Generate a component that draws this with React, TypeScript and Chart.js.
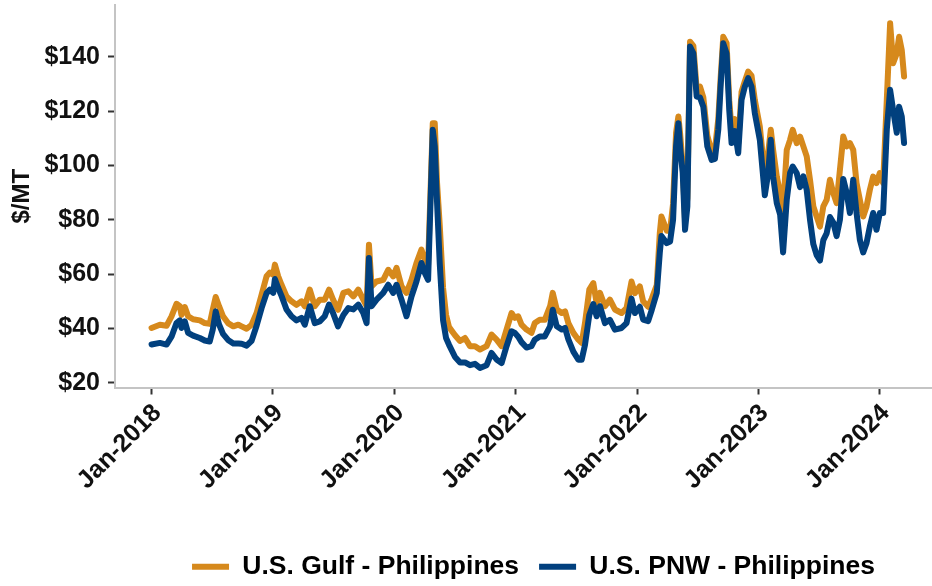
import React, { useEffect, useRef } from 'react';
import { Chart, registerables } from 'chart.js';

Chart.register(...registerables);

const dates = [
  '2018-01-01','2018-01-26','2018-02-15','2018-03-02','2018-03-17','2018-03-27','2018-04-01','2018-04-11','2018-04-21','2018-05-06',
  '2018-05-26','2018-06-10','2018-06-25','2018-07-04','2018-07-13','2018-07-23','2018-08-04','2018-08-19','2018-09-04','2018-09-19',
  '2018-09-29','2018-10-14','2018-10-29','2018-11-13','2018-11-28','2018-12-13','2018-12-23','2019-01-02','2019-01-07','2019-01-17',
  '2019-01-27','2019-02-11','2019-02-26','2019-03-13','2019-03-28','2019-04-07','2019-04-22','2019-05-07','2019-05-22','2019-06-06',
  '2019-06-19','2019-07-01','2019-07-16','2019-08-01','2019-08-16','2019-08-31','2019-09-15','2019-09-30','2019-10-10','2019-10-17',
  '2019-10-25','2019-11-09','2019-11-29','2019-12-14','2019-12-29','2020-01-08','2020-01-23','2020-02-07','2020-02-22','2020-03-08',
  '2020-03-23','2020-04-02','2020-04-12','2020-04-26','2020-05-02','2020-05-09','2020-05-17','2020-05-27','2020-06-05','2020-06-14',
  '2020-07-02','2020-07-17','2020-08-01','2020-08-16','2020-08-31','2020-09-15','2020-10-05','2020-10-20','2020-11-04','2020-11-19',
  '2020-12-04','2020-12-19','2020-12-29','2021-01-08','2021-01-18','2021-02-02','2021-02-17','2021-02-27','2021-03-14','2021-03-29',
  '2021-04-14','2021-04-22','2021-05-04','2021-05-19','2021-05-29','2021-06-08','2021-06-23','2021-07-08','2021-07-18','2021-07-28',
  '2021-08-10','2021-08-22','2021-09-01','2021-09-11','2021-09-26','2021-10-11','2021-10-26','2021-11-15','2021-11-30','2021-12-15',
  '2021-12-25','2022-01-09','2022-01-19','2022-02-03','2022-02-14','2022-03-01','2022-03-10','2022-03-15','2022-03-31','2022-04-10',
  '2022-04-19','2022-04-28','2022-05-05','2022-05-10','2022-05-18','2022-05-25','2022-06-01','2022-06-09','2022-06-19','2022-06-29',
  '2022-07-09','2022-07-19','2022-07-31','2022-08-13','2022-08-23','2022-09-02','2022-09-09','2022-09-17','2022-09-27','2022-10-05',
  '2022-10-12','2022-10-22','2022-11-01','2022-11-11','2022-11-21','2022-12-01','2022-12-11','2022-12-21','2023-01-05','2023-01-20',
  '2023-01-30','2023-02-07','2023-02-14','2023-02-25','2023-03-07','2023-03-16','2023-03-27','2023-04-06','2023-04-14','2023-04-26',
  '2023-05-06','2023-05-16','2023-05-26','2023-06-05','2023-06-15','2023-06-25','2023-07-05','2023-07-15','2023-07-25','2023-08-04',
  '2023-08-14','2023-08-24','2023-09-03','2023-09-13','2023-09-23','2023-10-03','2023-10-13','2023-10-23','2023-11-02','2023-11-12',
  '2023-11-22','2023-12-02','2023-12-12','2023-12-22','2024-01-01','2024-01-11','2024-01-22','2024-02-01','2024-02-10','2024-02-21',
  '2024-02-28','2024-03-07','2024-03-14',
];

const gulf = [
  40.2, 41.4, 41.0, 44.5, 49.1, 48.2, 45.0, 47.9, 44.5, 43.4,
  43.0, 42.0, 41.7, 46.9, 51.6, 48.2, 44.5, 42.0, 40.8, 41.4,
  40.8, 39.9, 41.4, 45.7, 52.4, 59.2, 60.6, 59.8, 63.5, 59.2,
  56.1, 51.8, 50.0, 48.7, 50.0, 48.2, 54.3, 48.2, 50.6, 50.6,
  54.3, 50.6, 46.9, 53.1, 53.7, 51.8, 54.3, 50.6, 48.2, 70.8,
  55.5, 57.3, 57.9, 61.6, 59.2, 62.3, 55.5, 53.1, 57.9, 64.1,
  69.0, 65.3, 63.5, 115.5, 115.5, 93.5, 78.0, 55.0, 45.0, 40.5,
  37.5, 35.4, 36.5, 33.5, 33.5, 32.3, 33.5, 37.8, 35.9, 33.5,
  39.6, 45.7, 43.9, 44.5, 41.4, 39.6, 38.4, 42.0, 43.2, 43.2,
  48.2, 53.1, 47.0, 45.7, 46.3, 42.0, 38.4, 35.9, 34.7, 42.0,
  54.3, 56.7, 49.4, 53.1, 48.2, 50.6, 47.0, 45.7, 47.5, 57.3,
  53.0, 55.5, 50.0, 48.0, 51.0, 56.0, 75.0, 81.2, 76.0, 76.0,
  86.0, 112.0, 118.0, 112.0, 100.0, 80.0, 88.0, 145.5, 144.0, 128.0,
  129.0, 125.0, 111.0, 105.0, 106.0, 117.0, 132.0, 147.3, 145.0, 124.0,
  113.0, 117.0, 108.0, 127.0, 131.0, 134.5, 133.0, 124.0, 114.3, 95.9,
  104.5, 113.1, 105.7, 95.9, 90.0, 83.7, 105.7, 109.4, 113.1, 108.2,
  110.6, 107.0, 103.3, 94.7, 84.9, 81.2, 77.5, 84.9, 87.3, 94.7,
  89.8, 86.1, 98.4, 110.6, 107.0, 108.2, 105.7, 93.5, 87.3, 81.2,
  84.9, 91.0, 95.9, 93.5, 97.2, 93.5, 124.1, 152.3, 137.6, 141.2,
  147.3, 142.4, 132.7,
];

const pnw = [
  34.1, 34.7, 34.1, 37.0, 42.0, 43.0, 40.2, 42.6, 38.4, 37.4,
  36.5, 35.6, 35.2, 39.5, 46.3, 41.5, 38.0, 35.8, 34.5, 34.5,
  34.4, 33.7, 35.5, 41.0, 47.5, 53.0, 54.3, 53.1, 58.2, 54.9,
  52.0, 47.0, 44.5, 43.0, 43.9, 41.4, 48.2, 42.0, 42.6, 44.5,
  48.8, 45.7, 40.8, 45.0, 47.5, 47.0, 48.8, 45.7, 42.0, 65.9,
  48.2, 50.6, 53.1, 56.1, 53.1, 56.1, 50.6, 44.5, 51.8, 57.3,
  64.1, 60.4, 57.9, 113.1, 107.0, 86.1, 64.0, 43.0, 36.5, 34.0,
  29.5, 27.5, 27.5, 26.5, 27.0, 25.5, 26.5, 31.0, 28.6, 27.3,
  33.5, 39.0, 38.4, 37.0, 35.0, 33.0, 33.5, 35.9, 37.1, 37.1,
  40.8, 46.9, 40.8, 39.6, 40.2, 36.0, 31.5, 28.5, 28.5, 34.0,
  45.0, 49.0, 44.5, 48.2, 42.0, 43.2, 39.6, 40.2, 42.0, 51.0,
  45.7, 48.0, 43.3, 42.7, 46.9, 53.1, 67.8, 74.0, 71.4, 72.0,
  80.0, 107.0, 115.5, 107.0, 97.2, 76.3, 84.9, 143.7, 141.2, 125.3,
  125.0, 121.6, 107.0, 102.0, 102.4, 113.1, 129.0, 144.9, 141.2, 120.4,
  108.2, 112.6, 104.5, 124.1, 129.0, 132.1, 129.0, 119.2, 109.4, 89.0,
  97.0, 109.4, 95.9, 86.1, 82.0, 68.0, 87.3, 97.2, 99.6, 97.2,
  92.0, 96.0, 91.0, 80.0, 71.0, 67.0, 65.0, 72.5, 75.0, 81.0,
  79.0, 74.0, 80.0, 95.0, 90.0, 82.5, 94.7, 82.5, 72.6, 68.0,
  71.4, 77.5, 82.5, 76.3, 82.5, 82.5, 113.1, 127.8, 120.4, 112.0,
  121.6, 118.0, 108.2,
];

const seriesNames = ['U.S. Gulf - Philippines', 'U.S. PNW - Philippines'];
const yTicks = [20, 40, 60, 80, 100, 120, 140];
const xTickYears = [2018, 2019, 2020, 2021, 2022, 2023, 2024];
const yTitle = '$/MT';

const GULF_COLOR = '#d6891c';
const PNW_COLOR = '#01407e';
const FONT = 'Liberation Sans, Arial, Helvetica, sans-serif';

// nudges the bottom legend to the right so it sits under the plot like the reference
const legendShift = {
  id: 'legendShift',
  afterUpdate(chart: any) {
    const lg = chart.legend;
    if (!lg) return;
    lg.left += 10;
    lg.right += 10;
    if (lg.legendHitBoxes) lg.legendHitBoxes.forEach((h: any) => (h.left += 10));
  },
};

export default function App() {
  const ref = useRef<HTMLCanvasElement>(null);

  useEffect(() => {
    document.body.style.margin = '0';
    const toTs = (s: string) => Date.parse(s + 'T00:00:00Z');
    const pts = (vals: number[]) => dates.map((d, i) => ({ x: toTs(d), y: vals[i] }));

    const lineStyle = {
      borderWidth: 6,
      pointRadius: 0,
      tension: 0,
      borderJoinStyle: 'round',
      borderCapStyle: 'round',
    };

    const chart = new Chart(ref.current as HTMLCanvasElement, {
      type: 'line',
      data: {
        datasets: [
          {
            label: seriesNames[1],
            data: pts(pnw),
            borderColor: PNW_COLOR,
            backgroundColor: PNW_COLOR,
            ...lineStyle,
          },
          {
            label: seriesNames[0],
            data: pts(gulf),
            borderColor: GULF_COLOR,
            backgroundColor: GULF_COLOR,
            ...lineStyle,
          },
        ],
      },
      options: {
        responsive: false,
        animation: false,
        devicePixelRatio: 1,
        layout: { padding: { top: 5, left: 0, right: 0, bottom: 0 } },
        plugins: {
          tooltip: { enabled: false },
          legend: {
            position: 'bottom',
            fullSize: false,
            reverse: true,
            labels: {
              boxWidth: 37,
              boxHeight: 6,
              padding: 20,
              color: '#111',
              font: { family: FONT, size: 26.5, weight: 'bold' },
              generateLabels: (c: any) =>
                c.data.datasets.map((ds: any, i: number) => ({
                  text: ds.label,
                  fillStyle: ds.borderColor,
                  strokeStyle: ds.borderColor,
                  lineWidth: 0,
                  hidden: false,
                  datasetIndex: i,
                })),
            },
          },
        },
        scales: {
          x: {
            type: 'linear',
            min: Date.UTC(2017, 8, 13),
            max: Date.UTC(2024, 5, 6),
            afterBuildTicks: (scale: any) => {
              scale.ticks = xTickYears.map((y) => ({ value: Date.UTC(y, 0, 1) }));
            },
            afterFit: (scale: any) => {
              scale.height = 146;
              scale.paddingRight = 0;
            },
            ticks: {
              autoSkip: false,
              maxRotation: 45,
              minRotation: 45,
              padding: 4,
              labelOffset: 6,
              color: '#111',
              font: { family: FONT, size: 25, weight: 'bold' },
              callback: (v: any) => 'Jan-' + new Date(Number(v)).getUTCFullYear(),
            },
            grid: {
              drawOnChartArea: false,
              drawTicks: true,
              tickLength: 7,
              tickColor: '#333',
              tickWidth: 2,
            },
            border: { display: true, color: '#c4c4c4', width: 2 },
          },
          y: {
            type: 'linear',
            min: 18.3,
            max: 159,
            afterBuildTicks: (scale: any) => {
              scale.ticks = yTicks.map((v) => ({ value: v }));
            },
            afterFit: (scale: any) => {
              scale.width = 115;
              scale.paddingTop = 0;
              scale.paddingBottom = 0;
            },
            ticks: {
              padding: 8,
              color: '#111',
              font: { family: FONT, size: 25, weight: 'bold' },
              callback: (v: any) => '$' + v,
            },
            grid: {
              drawOnChartArea: false,
              drawTicks: true,
              tickLength: 7,
              tickColor: '#333',
              tickWidth: 2,
            },
            border: { display: true, color: '#c4c4c4', width: 2 },
            title: {
              display: true,
              text: yTitle,
              color: '#111',
              padding: { top: 8, bottom: 0 },
              font: { family: FONT, size: 24, weight: 'bold' },
            },
          },
        },
      },
      plugins: [legendShift],
    } as any);

    return () => chart.destroy();
  }, []);

  return (
    <div
      style={{
        position: 'absolute',
        left: 0,
        top: 0,
        width: 932,
        height: 586,
        overflow: 'hidden',
        background: '#fff',
      }}
    >
      <canvas ref={ref} width={932} height={590} style={{ display: 'block' }} />
    </div>
  );
}
